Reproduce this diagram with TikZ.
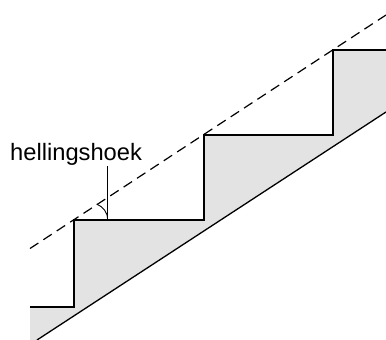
\documentclass[tikz,border=0pt]{standalone}
\usepackage{fontspec}
\setmainfont{Liberation Sans}
\tikzset{
  stair/.style={line width=1.9pt,line join=miter,black},
  slope/.style={line width=1.3pt,black},
  helper/.style={line width=1.2pt,black,dash pattern=on 10pt off 6pt},
  thin pointer/.style={line width=0.9pt,black},
  lbl/.style={font=\fontsize{23.7pt}{26pt}\selectfont,inner sep=0pt,anchor=base west,text=black}
}
\begin{document}
\begin{tikzpicture}[x=1pt,y=-1pt]
\useasboundingbox (0,0) rectangle (386,340);
\fill[black!11] (30,307) -- (74,307) -- (74,220) -- (204,220) -- (204,135) -- (333,135) -- (333,50) -- (386,50) -- (386,112) -- (37,340) -- (30,340) -- cycle;
\draw[slope] (37,340) -- (386,112);
\draw[stair] (30,307) -- (74,307) -- (74,220) -- (204,220) -- (204,135) -- (333,135) -- (333,50) -- (386,50);
\draw[helper] (30,248.5) -- (386,15);
\node[lbl] (label) at (10,160) {hellingshoek};
\coordinate (pointertop) at (107.5,166);
\coordinate (pointerfoot) at (107.5,220);
\coordinate (arcend) at (96.7,204);
\draw[thin pointer] (pointertop) -- (pointerfoot);
\draw[thin pointer] (pointerfoot) .. controls (108,212) and (103,207) .. (arcend);
\end{tikzpicture}
\end{document}
